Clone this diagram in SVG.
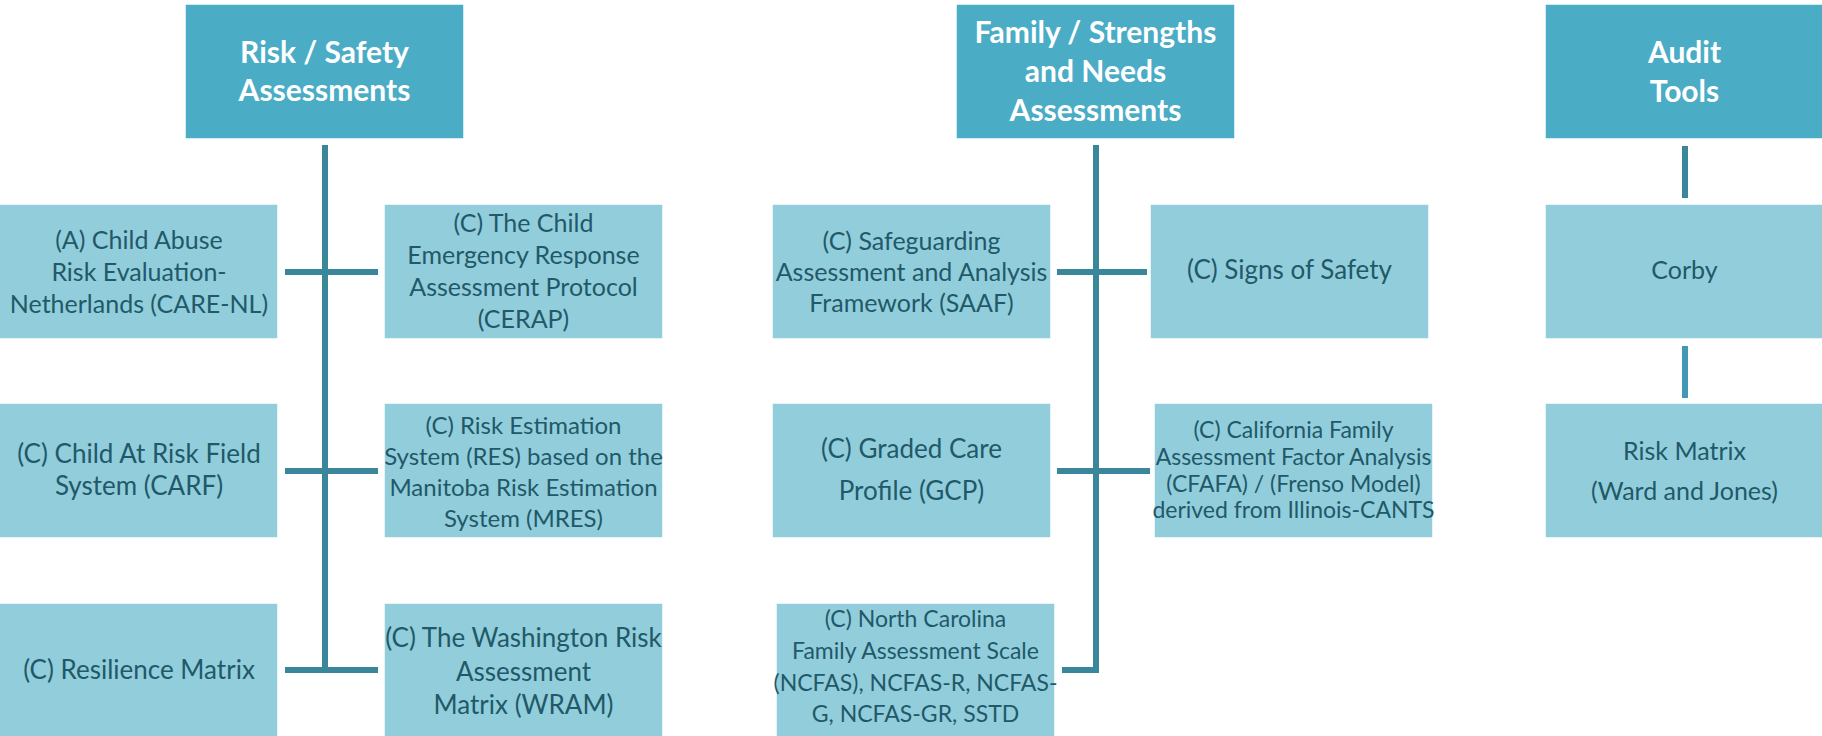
<svg xmlns="http://www.w3.org/2000/svg" width="1822" height="736" viewBox="0 0 1822 736">
<style>
.hdr{fill:#4BACC6;stroke:#ffffff;stroke-width:1.5}
.node{fill:#92CDDC;stroke:#ffffff;stroke-width:1.5}
.ht{font-family:Lato,"Liberation Sans",sans-serif;font-weight:bold;font-size:30px;fill:#ffffff;text-anchor:middle}
.nt{font-family:Lato,"Liberation Sans",sans-serif;fill:#215968;text-anchor:middle}
.con{stroke:#3A879B;stroke-width:6;fill:none}
</style>
<rect width="1822" height="736" fill="#ffffff"/>
<g id="connectors">
<line class="con" x1="325" y1="145" x2="325" y2="673"/>
<line class="con" x1="285" y1="272" x2="378" y2="272"/>
<line class="con" x1="285" y1="471" x2="378" y2="471"/>
<line class="con" x1="285" y1="670" x2="378" y2="670"/>
<line class="con" x1="1096" y1="145" x2="1096" y2="670"/>
<line class="con" x1="1057" y1="272" x2="1147" y2="272"/>
<line class="con" x1="1057" y1="471" x2="1150" y2="471"/>
<path class="con" d="M1062 670 H1096 V667"/>
<line class="con" x1="1685" y1="146" x2="1685" y2="198"/>
<line class="con" x1="1685" y1="346" x2="1685" y2="398" style="stroke:#4399B3"/>
</g>
<g id="h-risk"><rect class="hdr" x="185" y="4" width="279" height="135"/>
<text class="ht" x="324.5" y="63">Risk / Safety</text><text class="ht" x="324.5" y="101">Assessments</text></g>
<g id="h-family"><rect class="hdr" x="956" y="4" width="279" height="135"/>
<text class="ht" x="1095.5" y="43">Family / Strengths</text><text class="ht" x="1095.5" y="82">and Needs</text><text class="ht" x="1095.5" y="121">Assessments</text></g>
<g id="h-audit"><rect class="hdr" x="1545" y="4" width="279" height="135"/>
<text class="ht" x="1684.5" y="63">Audit</text><text class="ht" x="1684.5" y="102">Tools</text></g>

<g id="n-carenl"><rect class="node" x="-1" y="204" width="279" height="135"/>
<text class="nt" font-size="25" x="139" y="249">(A) Child Abuse</text><text class="nt" font-size="25" x="139" y="281">Risk Evaluation-</text><text class="nt" font-size="25" x="139" y="313">Netherlands (CARE-NL)</text></g>
<g id="n-cerap"><rect class="node" x="384" y="204" width="279" height="135"/>
<text class="nt" font-size="25" x="523.5" y="232">(C) The Child</text><text class="nt" font-size="25" x="523.5" y="264">Emergency Response</text><text class="nt" font-size="25" x="523.5" y="296">Assessment Protocol</text><text class="nt" font-size="25" x="523.5" y="328">(CERAP)</text></g>
<g id="n-carf"><rect class="node" x="-1" y="403" width="279" height="135"/>
<text class="nt" font-size="26" x="139" y="463">(C) Child At Risk Field</text><text class="nt" font-size="26" x="139" y="495">System (CARF)</text></g>
<g id="n-res"><rect class="node" x="384" y="403" width="279" height="135"/>
<text class="nt" font-size="24" x="523.5" y="434">(C) Risk Estimation</text><text class="nt" font-size="24" x="523.5" y="465">System (RES) based on the</text><text class="nt" font-size="24" x="523.5" y="496">Manitoba Risk Estimation</text><text class="nt" font-size="24" x="523.5" y="527">System (MRES)</text></g>
<g id="n-resilience"><rect class="node" x="-1" y="603" width="279" height="136"/>
<text class="nt" font-size="26" x="139" y="679">(C) Resilience Matrix</text></g>
<g id="n-wram"><rect class="node" x="384" y="603" width="279" height="136"/>
<text class="nt" font-size="26" x="523.5" y="647">(C) The Washington Risk</text><text class="nt" font-size="26" x="523.5" y="681">Assessment</text><text class="nt" font-size="26" x="523.5" y="714">Matrix (WRAM)</text></g>

<g id="n-saaf"><rect class="node" x="772" y="204" width="279" height="135"/>
<text class="nt" font-size="25" x="911.5" y="250">(C) Safeguarding</text><text class="nt" font-size="25" x="911.5" y="281">Assessment and Analysis</text><text class="nt" font-size="25" x="911.5" y="312">Framework (SAAF)</text></g>
<g id="n-signs"><rect class="node" x="1150" y="204" width="279" height="135"/>
<text class="nt" font-size="26" x="1289.5" y="279">(C) Signs of Safety</text></g>
<g id="n-gcp"><rect class="node" x="772" y="403" width="279" height="135"/>
<text class="nt" font-size="26" x="911.5" y="458">(C) Graded Care</text><text class="nt" font-size="26" x="911.5" y="500">Profile (GCP)</text></g>
<g id="n-cfafa"><rect class="node" x="1154" y="403" width="279" height="135"/>
<text class="nt" font-size="23" x="1293.5" y="438">(C) California Family</text><text class="nt" font-size="23" x="1293.5" y="465">Assessment Factor Analysis</text><text class="nt" font-size="23" x="1293.5" y="492">(CFAFA) / (Frenso Model)</text><text class="nt" font-size="23" x="1293.5" y="518">derived from Illinois-CANTS</text></g>
<g id="n-ncfas"><rect class="node" x="776" y="603" width="279" height="136"/>
<text class="nt" font-size="23" x="915.5" y="627">(C) North Carolina</text><text class="nt" font-size="23" x="915.5" y="659">Family Assessment Scale</text><text class="nt" font-size="23" x="915.5" y="691">(NCFAS), NCFAS-R, NCFAS-</text><text class="nt" font-size="23" x="915.5" y="722">G, NCFAS-GR, SSTD</text></g>

<g id="n-corby"><rect class="node" x="1545" y="204" width="279" height="135"/>
<text class="nt" font-size="25" x="1684.5" y="279">Corby</text></g>
<g id="n-riskmatrix"><rect class="node" x="1545" y="403" width="279" height="135"/>
<text class="nt" font-size="25" x="1684.5" y="460">Risk Matrix</text><text class="nt" font-size="25" x="1684.5" y="500">(Ward and Jones)</text></g>
</svg>
